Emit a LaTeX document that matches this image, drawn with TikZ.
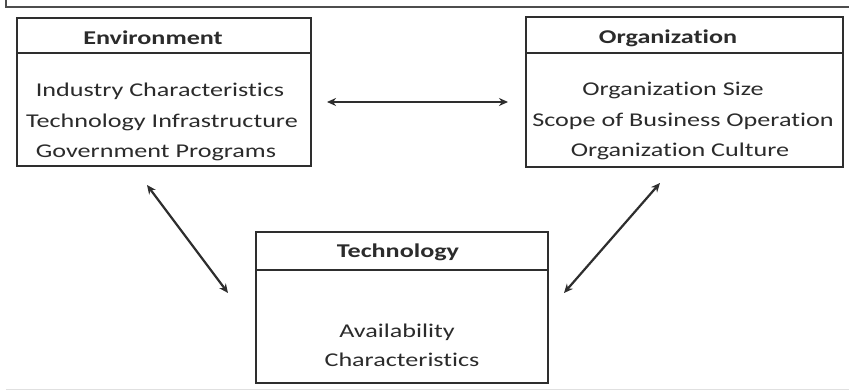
\documentclass[tikz,border=0pt]{standalone}
\usepackage{fontspec}
\setmainfont[FakeStretch=1.34,RawFeature=-liga]{Carlito}
\usetikzlibrary{arrows.meta}
\definecolor{ink}{HTML}{2E2E2E}
\definecolor{txt}{HTML}{2B2B2B}
\begin{document}
\begin{tikzpicture}[x=1pt,y=1pt,
  box/.style={draw=ink,line width=1.8pt,rectangle,inner sep=0pt},
  divider/.style={draw=ink,line width=1.6pt},
  hdr/.style={anchor=base,font=\fontsize{19.5}{22}\selectfont\bfseries,text=txt,inner sep=0pt},
  item/.style={anchor=base,font=\fontsize{19.5}{22}\selectfont,text=txt,inner sep=0pt},
  link/.style={draw=ink,line width=2.2pt,{Stealth[length=9pt,width=8pt]}-{Stealth[length=9pt,width=8pt]}}]
\useasboundingbox (0,0) rectangle (849,391);
\fill[white] (0,0) rectangle (849,391);
% outer frame (top and left)
\draw[draw=ink!85,line width=1.8pt] (6,391) -- (6,384) -- (849,384);
\draw[draw=black!12,line width=1pt] (6,1) -- (849,1);
% Environment
\node[box,minimum width=294pt,minimum height=148pt] (env) at (164,299) {};
\draw[divider] (17,338) -- (311,338);
\node[hdr] (envh) at (153,346) {Environment};
\node[item] (env1) at (160,294) {Industry Characteristics};
\node[item] (env2) at (162,263) {Technology Infrastructure};
\node[item] (env3) at (156,233) {Government Programs};
% Organization
\node[box,minimum width=317pt,minimum height=150pt] (org) at (684.5,299) {};
\draw[divider] (526,338) -- (843,338);
\node[hdr] (orgh) at (668,347) {Organization};
\node[item] (org1) at (673,295) {Organization Size};
\node[item] (org2) at (683,264) {Scope of Business Operation};
\node[item] (org3) at (680,234) {Organization Culture};
% Technology
\node[box,minimum width=292pt,minimum height=151pt] (tec) at (402,83.5) {};
\draw[divider] (256,121) -- (548,121);
\node[hdr] (tech) at (398,133) {Technology};
\node[item] (tec1) at (397,53) {Availability};
\node[item] (tec2) at (402,24) {Characteristics};
% connectors
\coordinate (a1) at (327,289);
\coordinate (a2) at (508,289);
\coordinate (b1) at (147,206);
\coordinate (b2) at (228,98);
\coordinate (c1) at (660,208);
\coordinate (c2) at (564,98);
\draw[link] (a1) -- (a2);
\draw[link] (b1) -- (b2);
\draw[link] (c1) -- (c2);
\end{tikzpicture}
\end{document}
